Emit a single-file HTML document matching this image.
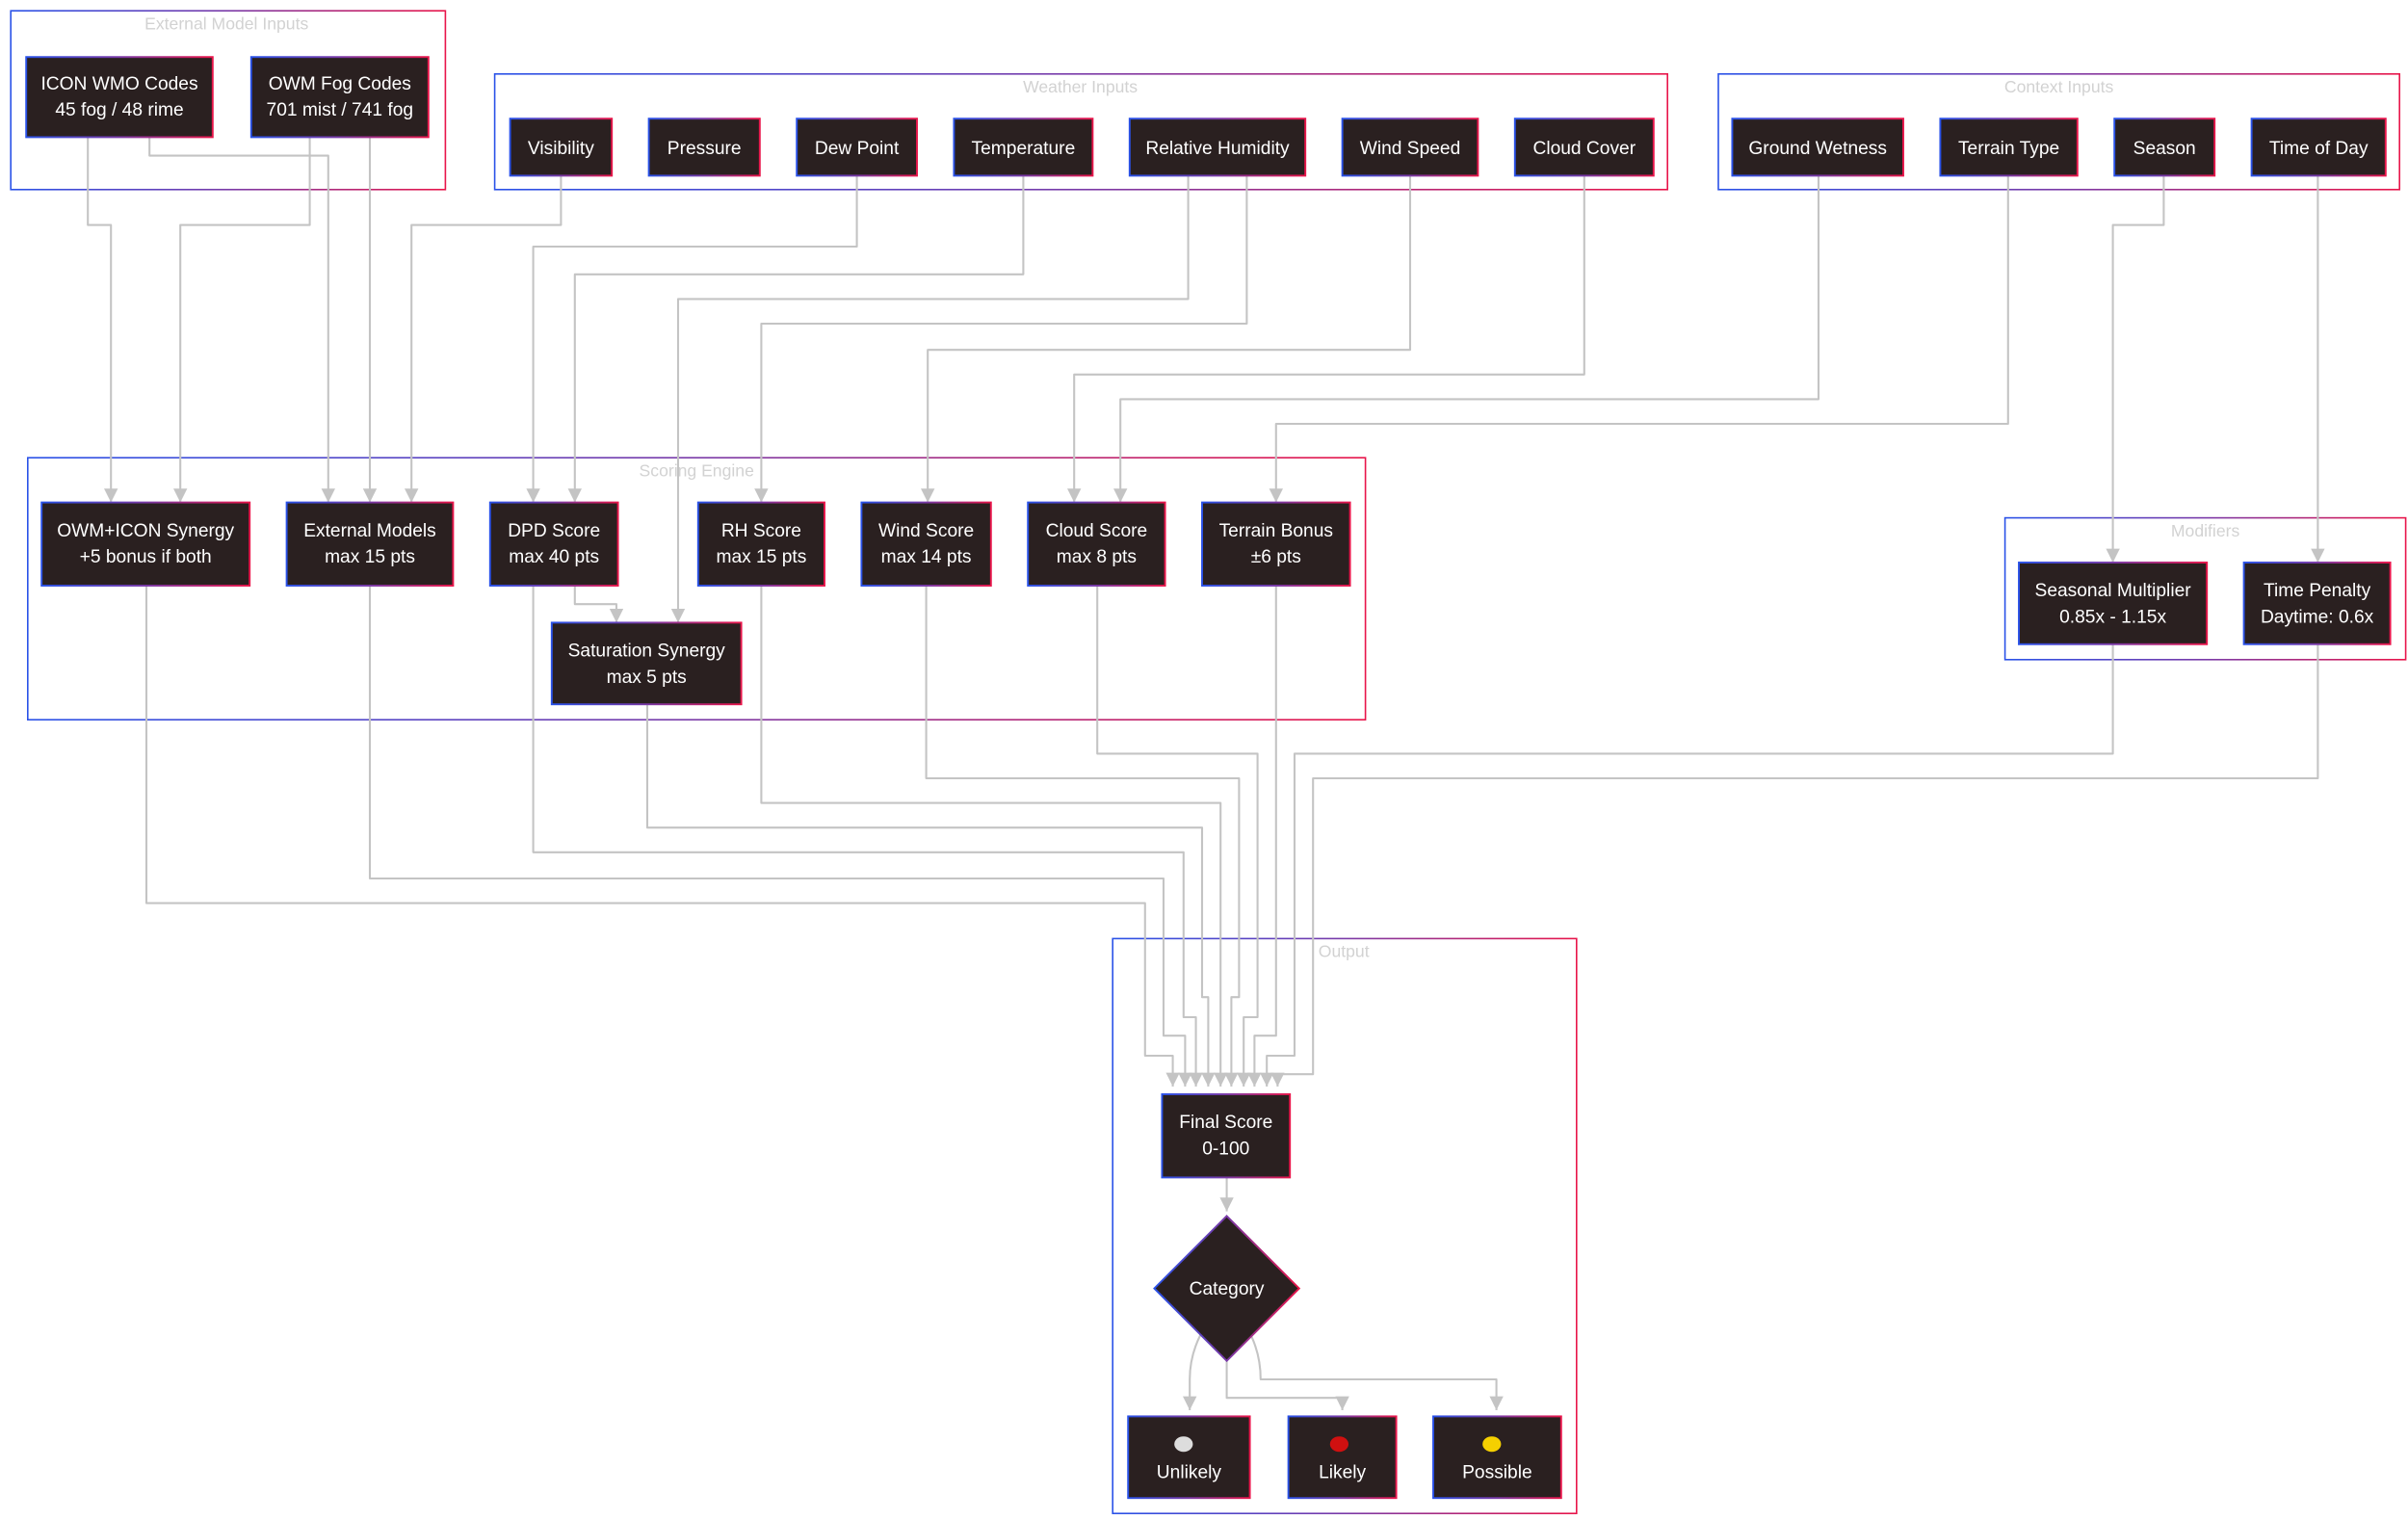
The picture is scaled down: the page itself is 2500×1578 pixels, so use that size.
<!DOCTYPE html>
<html><head><meta charset="utf-8"><style>
html,body{margin:0;padding:0;background:#fff;}
svg{display:block;}
text{font-family:"Liberation Sans",Arial,sans-serif;}
.n{fill:#2a2020;stroke:url(#g);stroke-width:1.2;}
.c{fill:none;stroke:url(#g);stroke-width:1;}
.t{fill:#fff;font-size:12px;text-anchor:middle;}
.ct{fill:#d2d2d2;font-size:11px;text-anchor:middle;}
.e{fill:none;stroke:#c4c4c4;stroke-width:1.3;stroke-linejoin:round;marker-end:url(#a);}
.e2{fill:none;stroke:#c4c4c4;stroke-width:1.3;stroke-linejoin:round;}
</style></head><body>
<svg width="2500" height="1578" viewBox="0 0 1562.5 986.25" xmlns="http://www.w3.org/2000/svg">
<defs>
<linearGradient id="g" x1="0" y1="0" x2="1" y2="0"><stop offset="0" stop-color="#2a52e8"/><stop offset="0.5" stop-color="#7a3aa8"/><stop offset="1" stop-color="#e8154a"/></linearGradient>
<marker id="a" viewBox="0 0 10 10" refX="10" refY="5" markerUnits="userSpaceOnUse" markerWidth="9" markerHeight="9" orient="auto"><path d="M0,0 L10,5 L0,10 z" fill="#c4c4c4"/></marker>
</defs>
<!-- clusters -->
<rect class="c" x="7" y="7" width="282" height="116"/><text class="ct" x="147" y="19">External Model Inputs</text>
<rect class="c" x="321" y="48" width="761" height="75"/><text class="ct" x="701" y="60">Weather Inputs</text>
<rect class="c" x="1115" y="48" width="442" height="75"/><text class="ct" x="1336" y="60">Context Inputs</text>
<rect class="c" x="18" y="297" width="868" height="170"/><text class="ct" x="452" y="309">Scoring Engine</text>
<rect class="c" x="1301" y="336" width="260" height="92"/><text class="ct" x="1431" y="348">Modifiers</text>
<rect class="c" x="722" y="609" width="301" height="373"/><text class="ct" x="872" y="621">Output</text>
<!-- edges -->
<path class="e" d="M57,89 V146 H72 V326"/>
<path class="e" d="M97,89 V101 H213 V326"/>
<path class="e" d="M201,89 V146 H117 V326"/>
<path class="e" d="M240,89 V326"/>
<path class="e" d="M364,114 V146 H267 V326"/>
<path class="e" d="M556,114 V160 H346 V326"/>
<path class="e" d="M664,114 V178 H373 V326"/>
<path class="e" d="M771,114 V194 H440 V404"/>
<path class="e" d="M809,114 V210 H494 V326"/>
<path class="e" d="M915,114 V227 H602 V326"/>
<path class="e" d="M1028,114 V243 H697 V326"/>
<path class="e" d="M1180,114 V259 H727 V326"/>
<path class="e" d="M1303,114 V275 H828 V326"/>
<path class="e" d="M1404,114 V146 H1371 V365"/>
<path class="e" d="M1504,114 V365"/>
<path class="e" d="M373,380 V392 H400 V404"/>
<path class="e" d="M95,380 V586 H743 V685 H761 V705"/>
<path class="e" d="M240,380 V570 H755 V672 H769 V705"/>
<path class="e" d="M346,380 V553 H768 V660 H776 V705"/>
<path class="e" d="M420,457 V537 H780 V647 H784 V705"/>
<path class="e" d="M494,380 V521 H792 V705"/>
<path class="e" d="M601,380 V505 H804 V647 H799 V705"/>
<path class="e" d="M712,380 V489 H816 V660 H807 V705"/>
<path class="e" d="M828,380 V672 H814 V705"/>
<path class="e" d="M1371,418 V489 H840 V685 H822 V705"/>
<path class="e" d="M1504,418 V505 H852 V697 H829 V705"/>
<path class="e" d="M796,764 V786"/>
<path class="e" d="M779,866 Q772,880 772,895 V915"/>
<path class="e" d="M796,883 V907 H871 V915"/>
<path class="e" d="M812,867 Q818,880 818,895 H971 V915"/>
<!-- nodes -->
<rect class="n" x="17" y="37" width="121" height="52"/><text class="t" x="77.5" y="58">ICON WMO Codes</text><text class="t" x="77.5" y="75">45 fog / 48 rime</text>
<rect class="n" x="163" y="37" width="115" height="52"/><text class="t" x="220.5" y="58">OWM Fog Codes</text><text class="t" x="220.5" y="75">701 mist / 741 fog</text>
<rect class="n" x="331" y="77" width="66" height="37"/><text class="t" x="364" y="100">Visibility</text>
<rect class="n" x="421" y="77" width="72" height="37"/><text class="t" x="457" y="100">Pressure</text>
<rect class="n" x="517" y="77" width="78" height="37"/><text class="t" x="556" y="100">Dew Point</text>
<rect class="n" x="619" y="77" width="90" height="37"/><text class="t" x="664" y="100">Temperature</text>
<rect class="n" x="733" y="77" width="114" height="37"/><text class="t" x="790" y="100">Relative Humidity</text>
<rect class="n" x="871" y="77" width="88" height="37"/><text class="t" x="915" y="100">Wind Speed</text>
<rect class="n" x="983" y="77" width="90" height="37"/><text class="t" x="1028" y="100">Cloud Cover</text>
<rect class="n" x="1124" y="77" width="111" height="37"/><text class="t" x="1179.5" y="100">Ground Wetness</text>
<rect class="n" x="1259" y="77" width="89" height="37"/><text class="t" x="1303.5" y="100">Terrain Type</text>
<rect class="n" x="1372" y="77" width="65" height="37"/><text class="t" x="1404.5" y="100">Season</text>
<rect class="n" x="1461" y="77" width="87" height="37"/><text class="t" x="1504.5" y="100">Time of Day</text>
<rect class="n" x="27" y="326" width="135" height="54"/><text class="t" x="94.5" y="348">OWM+ICON Synergy</text><text class="t" x="94.5" y="365">+5 bonus if both</text>
<rect class="n" x="186" y="326" width="108" height="54"/><text class="t" x="240" y="348">External Models</text><text class="t" x="240" y="365">max 15 pts</text>
<rect class="n" x="318" y="326" width="83" height="54"/><text class="t" x="359.5" y="348">DPD Score</text><text class="t" x="359.5" y="365">max 40 pts</text>
<rect class="n" x="453" y="326" width="82" height="54"/><text class="t" x="494" y="348">RH Score</text><text class="t" x="494" y="365">max 15 pts</text>
<rect class="n" x="559" y="326" width="84" height="54"/><text class="t" x="601" y="348">Wind Score</text><text class="t" x="601" y="365">max 14 pts</text>
<rect class="n" x="667" y="326" width="89" height="54"/><text class="t" x="711.5" y="348">Cloud Score</text><text class="t" x="711.5" y="365">max 8 pts</text>
<rect class="n" x="780" y="326" width="96" height="54"/><text class="t" x="828" y="348">Terrain Bonus</text><text class="t" x="828" y="365">±6 pts</text>
<rect class="n" x="358" y="404" width="123" height="53"/><text class="t" x="419.5" y="426">Saturation Synergy</text><text class="t" x="419.5" y="443">max 5 pts</text>
<rect class="n" x="1310" y="365" width="122" height="53"/><text class="t" x="1371" y="387">Seasonal Multiplier</text><text class="t" x="1371" y="404">0.85x - 1.15x</text>
<rect class="n" x="1456" y="365" width="95" height="53"/><text class="t" x="1503.5" y="387">Time Penalty</text><text class="t" x="1503.5" y="404">Daytime: 0.6x</text>
<rect class="n" x="754" y="710" width="83" height="54"/><text class="t" x="795.5" y="732">Final Score</text><text class="t" x="795.5" y="749">0-100</text>
<path class="n" d="M796,789 L843,836 L796,883 L749,836 Z"/><text class="t" x="796" y="840">Category</text>
<rect class="n" x="732" y="919" width="79" height="53"/><ellipse cx="768" cy="937" rx="6" ry="5" fill="#ddd"/><text class="t" x="771.5" y="959">Unlikely</text>
<rect class="n" x="836" y="919" width="70" height="53"/><ellipse cx="869" cy="937" rx="6" ry="5" fill="#d01010"/><text class="t" x="871" y="959">Likely</text>
<rect class="n" x="930" y="919" width="83" height="53"/><ellipse cx="968" cy="937" rx="6" ry="5" fill="#f5d000"/><text class="t" x="971.5" y="959">Possible</text>
</svg>
</body></html>
